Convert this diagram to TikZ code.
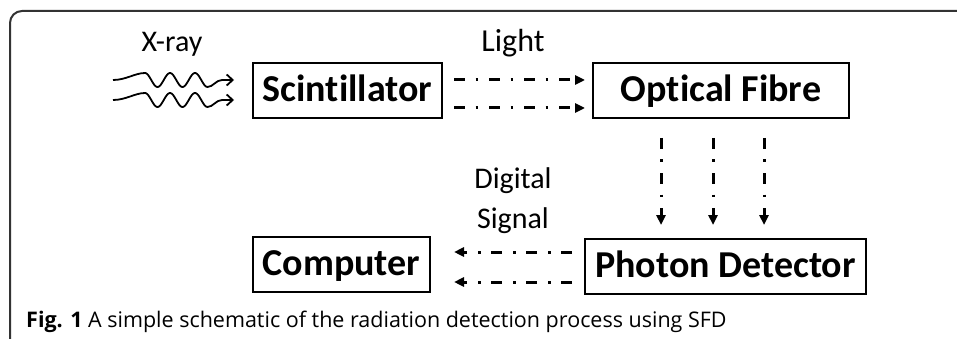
\documentclass[tikz,border=0pt]{standalone}
\usepackage{fontspec}
\setmainfont{Carlito}[Ligatures=NoCommon]
\newfontfamily\capfont{Open Sans}
\usetikzlibrary{arrows.meta,calc}
\begin{document}
\begin{tikzpicture}[x=1pt,y=-1pt,
  box/.style={draw, line width=2pt, font=\fontsize{38}{42}\selectfont\bfseries, minimum height=55pt, inner sep=0pt, text height=24pt, text depth=2pt},
  lbl/.style={font=\fontsize{30}{34}\selectfont, inner sep=0pt, anchor=base},
  sig/.style={line width=3pt, dash pattern=on 11pt off 10.5pt on 2.5pt off 11pt, -{Triangle[length=10pt,width=9pt]}},
  wave/.style={line width=1.8pt, -{Straight Barb[length=6pt,width=11pt]}},
  frame/.style={line width=2pt, draw=black!80, rounded corners=12pt}
]
\useasboundingbox (0,0) rectangle (957,339);
\draw[frame] (957,11) -- (10,11) -- (10,339);

\node[box, minimum width=189pt] (scint) at (347.5,91) {Scintillator};
\node[box, minimum width=256pt] (fibre) at (721,90.5) {Optical Fibre};
\node[box, minimum width=281pt] (det) at (725.5,266.5) {Photon Detector};
\node[box, minimum width=177pt] (comp) at (341.5,264.5) {Computer};

\node[lbl] (xray) at (172,52) {X-ray};
\node[lbl, font=\fontsize{32}{36}\selectfont] (light) at (513,52) {Light};
\node[lbl] (digital) at (513,188) {Digital};
\node[lbl] (signal) at (513,228) {Signal};

\foreach \dy/\ey in {0/-11,20/9}{
  \draw[wave] (113,80+\dy) .. controls (126,80+\dy) and (135,73+\dy) .. (145,73+\dy)
    -- plot[domain=0:62.5, samples=60] ({145+\x},{80+\dy-7*cos(14.4*\x)})
    .. controls (213,87+\dy) and (216,80+\dy) .. (222,80+\dy)
    -- ([shift={(-18,\ey)}]scint.west);
}

\draw[sig] ([shift={(11,-11)}]scint.east) -- ([shift={(-7,-10.5)}]fibre.west);
\draw[sig] ([shift={(11,17)}]scint.east) -- ([shift={(-7,17.5)}]fibre.west);

\foreach \a/\b in {-60/-64.5,-8/-12.5,43/38.5}{
  \draw[sig] ([shift={(\a,19)}]fibre.south) -- ([shift={(\b,-13)}]det.north);
}

\draw[sig] ([shift={(-12,-14.5)}]det.west) -- ([shift={(23,-12.5)}]comp.east);
\draw[sig] ([shift={(-12,15.5)}]det.west) -- ([shift={(23,17.5)}]comp.east);

\node[anchor=base west, inner sep=0pt, font=\capfont\fontsize{21.5}{25}\selectfont] (cap) at (26,327)
  {\textbf{Fig. 1} A simple schematic of the radiation detection process using SFD};
\end{tikzpicture}
\end{document}
